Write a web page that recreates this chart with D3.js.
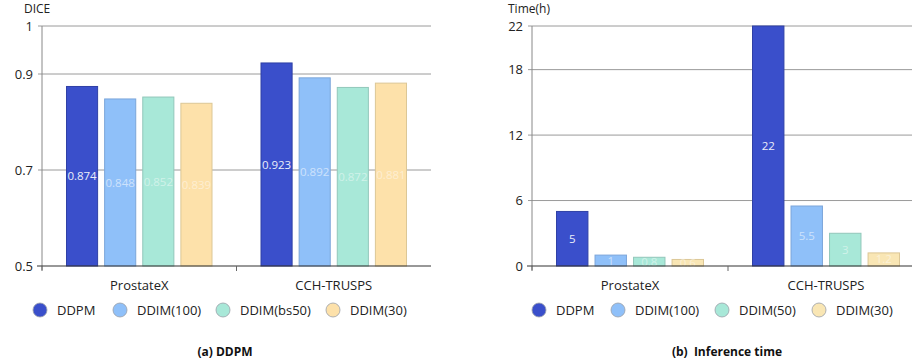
<!DOCTYPE html>
<html lang="en">
<head>
<meta charset="UTF-8">
<title>DDPM vs DDIM</title>
<script src="https://cdn.jsdelivr.net/npm/d3@7"></script>
<style>
  body { margin: 0; background: #fff; }
  svg { display: block; font-family: "Open Sans", "Noto Sans", sans-serif; }
</style>
</head>
<body>
<svg id="chart" width="912" height="362"></svg>
<script>
  const datasets = ["ProstateX", "CCH-TRUSPS"];

  // (a) dice scores
  const diceSeries = ["DDPM", "DDIM(100)", "DDIM(bs50)", "DDIM(30)"];
  const diceProstateX = [0.874, 0.848, 0.852, 0.839];
  const diceCCH = [0.923, 0.892, 0.872, 0.881];
  const diceTicks = [0.5, 0.7, 0.9, 1];

  // (b) inference time in hours
  const timeSeries = ["DDPM", "DDIM(100)", "DDIM(50)", "DDIM(30)"];
  const timeProstateX = [5, 1, 0.8, 0.6];
  const timeCCH = [22, 5.5, 3, 1.2];
  const timeTicks = [0, 6, 12, 18, 22];

  const fillsA = ["#3a4fcb", "#8fc0f9", "#a8e8d8", "#fde1aa"];
  const fillsB = ["#3a4fcb", "#8fc0f9", "#a8e8d8", "#f9e6b4"];
  const strokes = ["#2f40a6", "#7ca6da", "#92c7ba", "#dcc796"];
  const labelOpacity = [0.9, 0.55, 0.45, 0.45];

  const svg = d3.select("#chart");

  function drawPanel(opt) {
    const g = svg.append("g");
    const top = 26, bottom = 266;

    const y = d3.scaleLinear().domain(opt.yDomain).range([bottom, top]);
    const x0 = d3.scaleBand().domain(datasets).range([opt.left, opt.right]);
    const x1 = d3.scaleBand().domain(opt.series)
      .range([24, x0.bandwidth() - 24]).paddingInner(0.158);

    // gridlines + tick labels
    g.selectAll(".grid").data(opt.ticks.filter(t => t !== opt.yDomain[0]))
      .join("line")
      .attr("x1", opt.left - 4).attr("x2", opt.right)
      .attr("y1", d => y(d)).attr("y2", d => y(d))
      .attr("stroke", "#9a9a9a").attr("stroke-width", 1);

    g.selectAll(".tl").data(opt.ticks).join("text")
      .attr("x", opt.left - 9).attr("y", d => y(d))
      .attr("dy", "0.35em").attr("text-anchor", "end")
      .attr("font-size", 13).attr("fill", "#222")
      .text(d => d);

    // vertical axis
    g.append("line")
      .attr("x1", opt.left).attr("x2", opt.left)
      .attr("y1", top).attr("y2", bottom + 4)
      .attr("stroke", "#888");

    g.append("text")
      .attr("x", opt.titleX).attr("y", 13)
      .attr("font-size", 12).attr("fill", "#222")
      .text(opt.yTitle);

    // bars
    const rows = datasets.map((d, i) => ({ key: d, values: opt.values[i] }));
    const groups = g.selectAll(".grp").data(rows).join("g")
      .attr("transform", d => `translate(${x0(d.key)},0)`);

    groups.selectAll("rect").data(d => d.values.map((v, j) => ({ s: opt.series[j], v, j })))
      .join("rect")
      .attr("x", d => x1(d.s) + 0.5)
      .attr("y", d => y(d.v))
      .attr("width", x1.bandwidth() - 1)
      .attr("height", d => bottom - y(d.v))
      .attr("fill", d => opt.fills[d.j])
      .attr("stroke", d => strokes[d.j])
      .attr("stroke-width", 1);

    groups.selectAll(".val").data(d => d.values.map((v, j) => ({ s: opt.series[j], v, j })))
      .join("text")
      .attr("x", d => x1(d.s) + x1.bandwidth() / 2)
      .attr("y", d => (y(d.v) + bottom) / 2)
      .attr("dy", "0.35em").attr("text-anchor", "middle")
      .attr("font-size", 11.5).attr("fill", "#fff")
      .attr("opacity", d => labelOpacity[d.j])
      .text(d => d.v);

    // baseline
    g.append("line")
      .attr("x1", opt.left - 5).attr("x2", opt.right)
      .attr("y1", bottom).attr("y2", bottom)
      .attr("stroke", "#333").attr("stroke-width", 1.2);

    g.selectAll(".xt").data([opt.left, opt.left + x0.bandwidth()]).join("line")
      .attr("x1", d => d).attr("x2", d => d)
      .attr("y1", bottom).attr("y2", bottom + 5)
      .attr("stroke", "#666");

    g.selectAll(".cat").data(datasets).join("text")
      .attr("x", d => x0(d) + x0.bandwidth() / 2).attr("y", 285)
      .attr("dy", "0.35em").attr("text-anchor", "middle")
      .attr("font-size", 13).attr("fill", "#222")
      .text(d => d);

    // legend
    const leg = g.selectAll(".leg").data(opt.series).join("g")
      .attr("transform", (d, i) => `translate(${opt.legendX[i]},310)`);
    leg.append("circle").attr("r", 7)
      .attr("fill", (d, i) => opt.fills[i])
      .attr("stroke", "#9aa0a8").attr("stroke-width", 0.8);
    leg.append("text").attr("x", 17).attr("dy", "0.35em")
      .attr("font-size", 13).attr("fill", "#222")
      .text(d => d);

    svg.append("text")
      .attr("x", opt.captionX).attr("y", 352)
      .attr("dy", "0.35em").attr("text-anchor", "middle")
      .attr("font-size", 12).attr("font-weight", "bold").attr("fill", "#111")
      .attr("xml:space", "preserve")
      .text(opt.caption);
  }

  drawPanel({
    left: 42, right: 431,
    yDomain: [0.5, 1], ticks: diceTicks,
    series: diceSeries, values: [diceProstateX, diceCCH],
    fills: fillsA, yTitle: "DICE", titleX: 24,
    legendX: [40, 120, 223, 333],
    caption: "(a) DDPM", captionX: 225
  });

  drawPanel({
    left: 532, right: 924,
    yDomain: [0, 22], ticks: timeTicks,
    series: timeSeries, values: [timeProstateX, timeCCH],
    fills: fillsB, yTitle: "Time(h)", titleX: 508,
    legendX: [539, 618, 722, 819],
    caption: "(b)  Inference time", captionX: 727
  });
</script>
</body>
</html>
